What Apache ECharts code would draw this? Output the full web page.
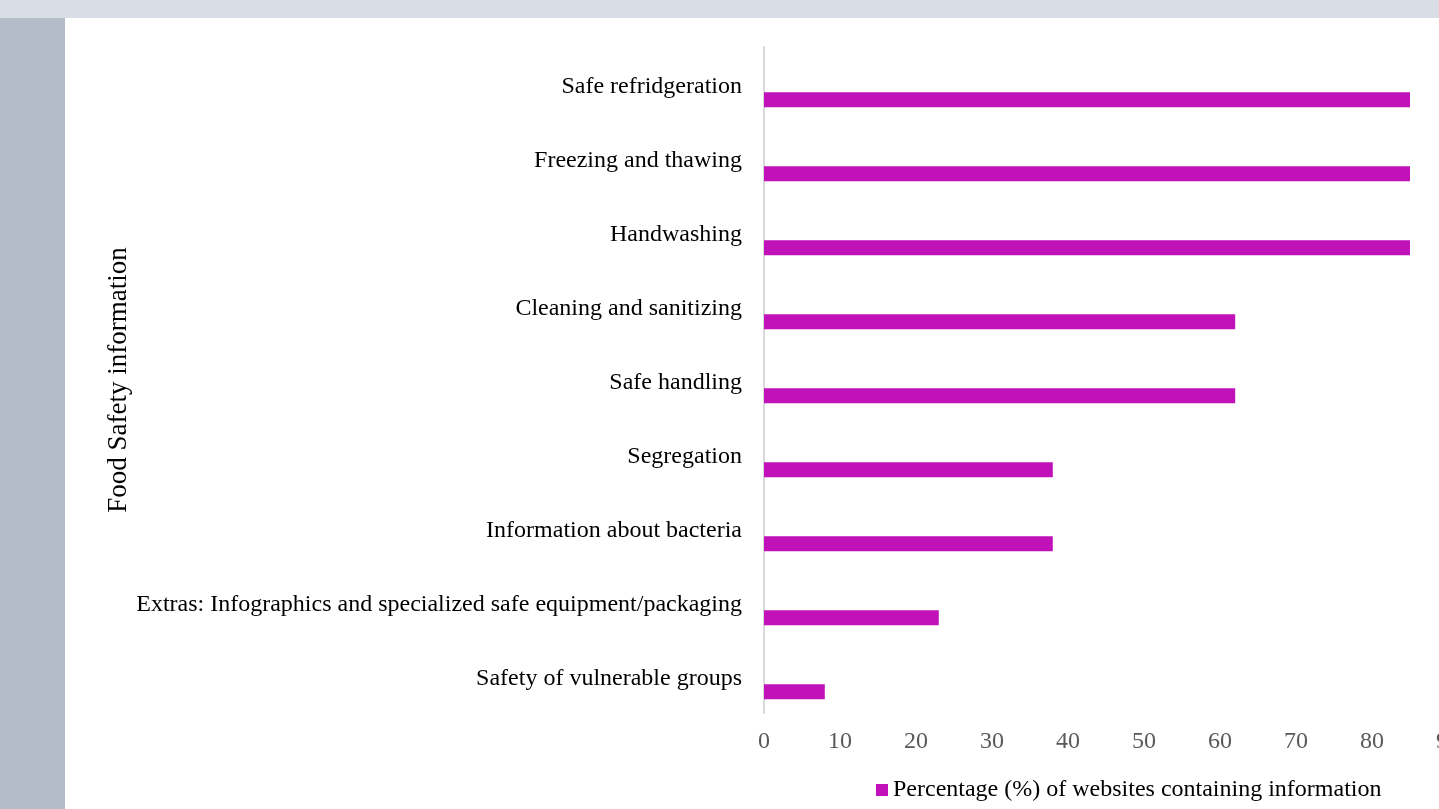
<!DOCTYPE html>
<html>
<head>
<meta charset="utf-8">
<script src="https://cdn.jsdelivr.net/npm/echarts@6/dist/echarts.min.js"></script>
<style>
html,body{margin:0;padding:0;background:#fff;}
#c{width:1439px;height:809px;}
</style>
</head>
<body>
<div id="c"></div>
<script>
const categories = [
  "Safe refridgeration",
  "Freezing and thawing",
  "Handwashing",
  "Cleaning and sanitizing",
  "Safe handling",
  "Segregation",
  "Information about bacteria",
  "Extras: Infographics and specialized safe equipment/packaging",
  "Safety of vulnerable groups"
];
const percentages = [85, 85, 85, 62, 62, 38, 38, 23, 8];
const emptySeries = [null, null, null, null, null, null, null, null, null];
const xTicks = [0, 10, 20, 30, 40, 50, 60, 70, 80, 90];

const FONT = '"Liberation Serif", "Times New Roman", serif';
const chart = echarts.init(document.getElementById('c'), null, {renderer: 'canvas'});
chart.setOption({
  backgroundColor: '#ffffff',
  animation: false,
  graphic: [
    {type: 'rect', left: 0, top: 0, shape: {width: 1439, height: 18}, style: {fill: '#D9DDE5'}, z: -10},
    {type: 'rect', left: 0, top: 18, shape: {width: 65, height: 791}, style: {fill: '#B5BCC9'}, z: -10}
  ],
  grid: {left: 764, top: 47, width: 684, height: 666, containLabel: false, outerBoundsMode: 'none'},
  legend: {
    data: ['Percentage (%) of websites containing information'],
    left: 871, top: 773,
    itemWidth: 12, itemHeight: 12, itemGap: 5,
    icon: 'rect',
    textStyle: {fontFamily: FONT, fontSize: 24, color: '#000'}
  },
  xAxis: {
    type: 'value', min: 0, max: 90, interval: 10,
    axisLine: {show: false}, axisTick: {show: false},
    splitLine: {show: false},
    axisLabel: {fontFamily: FONT, fontSize: 24, color: '#595959', margin: 17,
      formatter: v => xTicks.includes(v) ? String(v) : ''}
  },
  yAxis: {
    type: 'category', data: categories, inverse: true,
    name: 'Food Safety information', nameLocation: 'middle', nameGap: 631, nameRotate: 90,
    nameTextStyle: {fontFamily: FONT, fontSize: 27, color: '#000'},
    axisLine: {show: true, lineStyle: {color: '#D9D9D9', width: 2}},
    axisTick: {show: false},
    axisLabel: {
      fontFamily: FONT, fontSize: 24, color: '#000', margin: 22,
      formatter: v => '{t|' + v + '}',
      rich: {t: {fontFamily: FONT, fontSize: 24, color: '#000', padding: [5, 0, 0, 0]}}
    }
  },
  series: [
    {name: 'dummy', type: 'bar', data: emptySeries, barWidth: 15, barGap: '110%', itemStyle: {color: 'transparent'}},
    {name: 'Percentage (%) of websites containing information', type: 'bar', data: percentages,
     barWidth: 15, barGap: '110%', itemStyle: {color: '#C112B9'}}
  ]
});
</script>
</body>
</html>
